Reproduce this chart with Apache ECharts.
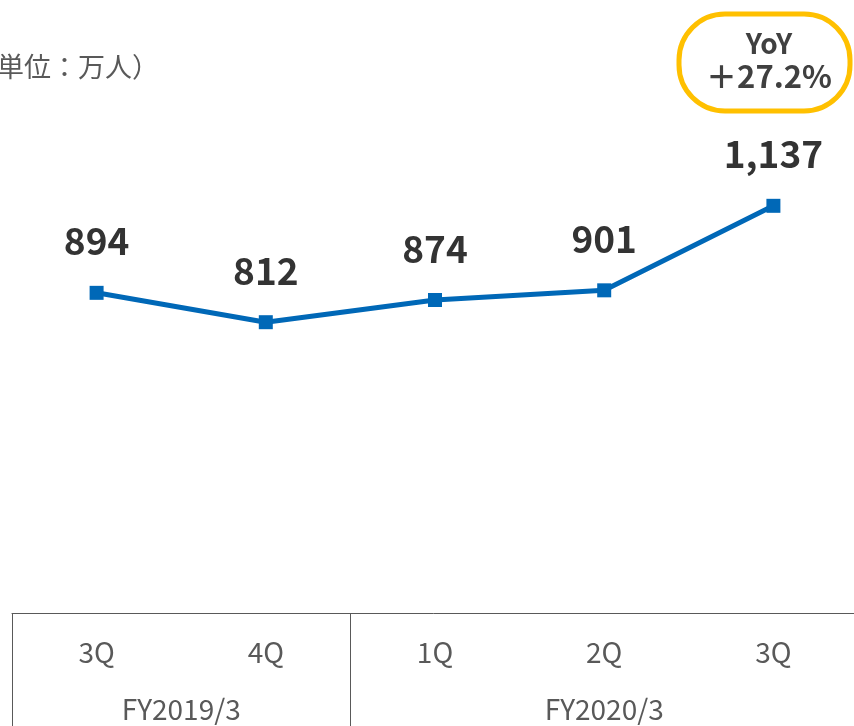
<!DOCTYPE html>
<html>
	<head>
		<meta charset="utf-8">
		<title></title>
		<style type="text/css">
			body{ margin: 0; background: #fff; }
			#main{
				width: 854px;
				height: 726px;
			}
		</style>
	</head>
	<body>
		<div id="main"></div>
	</body>
<script src="https://cdn.jsdelivr.net/npm/echarts@6/dist/echarts.min.js" type="text/javascript" charset="utf-8"></script>
<script type="text/javascript">
	// 四半期ごとの値（万人）
	var quarters = ['3Q', '4Q', '1Q', '2Q', '3Q'];
	var users = [894, 812, 874, 901, 1137];
	// 年度と、その年度に入る四半期の数
	var fiscalYears = ['FY2019/3', 'FY2020/3'];
	var fyQuarterCounts = [2, 3];
	var unitText = '（単位：万人）';
	var yoyText = ['YoY', '＋27.2%'];

	// 年度の境目と中心を四半期単位で計算
	var fyStarts = [];
	var fyCenters = [];
	var acc = 0;
	for (var i = 0; i < fyQuarterCounts.length; i++) {
		fyStarts.push(acc);
		fyCenters.push(acc + fyQuarterCounts[i] / 2);
		acc += fyQuarterCounts[i];
	}

	var font = 'Noto Sans CJK JP';
	var gray = '#595959';

	var myChart = echarts.init(document.getElementById('main'));
	var option = {
		animation: false,
		grid: {
			left: 12,
			top: 40,
			width: 846,
			height: 573,
			outerBoundsMode: 'none'
		},
		xAxis: [
			{
				type: 'category',
				data: quarters,
				axisLine: { lineStyle: { color: gray, width: 1 } },
				axisTick: { show: false },
				axisLabel: {
					color: gray,
					fontFamily: font,
					fontSize: 28,
					margin: 25
				}
			},
			{
				type: 'value',
				min: 0,
				max: quarters.length,
				position: 'bottom',
				axisLine: { show: false },
				splitLine: { show: false },
				axisTick: {
					show: true,
					customValues: fyStarts,
					length: 113,
					lineStyle: { color: gray, width: 1 }
				},
				axisLabel: {
					customValues: fyCenters,
					color: gray,
					fontFamily: font,
					fontSize: 28,
					margin: 82,
					formatter: function (v) {
						var idx = fyCenters.indexOf(v);
						return idx >= 0 ? fiscalYears[idx] : '';
					}
				}
			}
		],
		yAxis: {
			type: 'value',
			min: 0,
			max: 1600,
			show: false
		},
		series: [
			{
				type: 'line',
				data: users,
				xAxisIndex: 0,
				symbol: 'rect',
				symbolSize: 14,
				lineStyle: { color: '#0068B7', width: 5 },
				itemStyle: { color: '#0068B7' },
				label: {
					show: true,
					position: 'top',
					distance: 26,
					color: '#333333',
					fontFamily: font,
					fontWeight: 'bold',
					fontSize: 37,
					formatter: function (p) {
						return p.value.toLocaleString('en-US');
					}
				}
			}
		],
		graphic: [
			{
				type: 'text',
				left: -30,
				top: 53,
				style: {
					text: unitText,
					fill: gray,
					font: '27px "Noto Sans CJK JP"'
				}
			},
			{
				type: 'rect',
				shape: { x: 679, y: 14, width: 171, height: 97, r: 46 },
				style: { fill: '#fff', stroke: '#FFC000', lineWidth: 5 }
			},
			{
				type: 'text',
				x: 769,
				y: 43,
				style: {
					text: yoyText[0],
					fill: '#404040',
					font: 'bold 28px "Noto Sans CJK JP"',
					align: 'center',
					verticalAlign: 'middle'
				}
			},
			{
				type: 'text',
				x: 769,
				y: 76,
				style: {
					text: yoyText[1],
					fill: '#404040',
					font: 'bold 31px "Noto Sans CJK JP"',
					align: 'center',
					verticalAlign: 'middle'
				}
			}
		]
	};
	myChart.setOption(option);
</script>
</html>
